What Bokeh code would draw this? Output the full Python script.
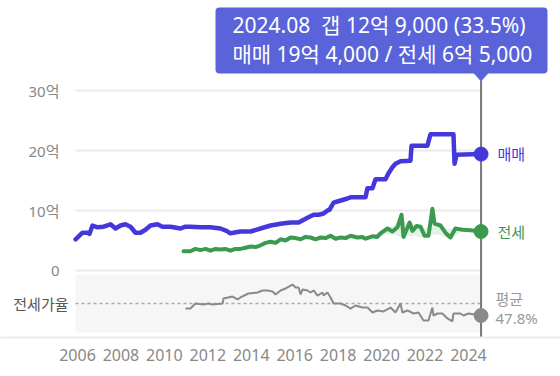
from bokeh.plotting import figure
from bokeh.models import Range1d, FixedTicker, BoxAnnotation, Label
from bokeh.core.properties import value
from bokeh.embed import file_html
from bokeh.resources import INLINE

# ---------------- data (억 원, 연도) ----------------
sale_year = [2005.91, 2006.23, 2006.46, 2006.55, 2006.69, 2006.92, 2007.20, 2007.52, 2007.75, 2007.98,
             2008.21, 2008.44, 2008.67, 2008.90, 2009.13, 2009.36, 2009.68, 2009.91, 2010.28, 2010.74,
             2010.97, 2011.20, 2011.66, 2012.12, 2012.58, 2012.86, 2013.04, 2013.50, 2013.97, 2014.43,
             2014.89, 2015.35, 2015.81, 2016.18, 2016.59, 2016.87, 2017.10, 2017.33, 2017.51, 2017.60,
             2017.79, 2017.97, 2018.43, 2018.57, 2019.26, 2019.35, 2019.58, 2019.72, 2020.18, 2020.32,
             2020.50, 2020.64, 2020.87, 2021.33, 2021.38, 2022.11, 2022.25, 2023.31, 2023.36, 2023.45,
             2024.58]
sale_val = [5.2, 6.3, 6.3, 6.1, 7.5, 7.2, 7.3, 7.7, 7.0, 7.5,
            7.7, 7.3, 6.3, 6.3, 6.8, 7.5, 7.7, 7.3, 7.3, 7.0,
            7.3, 7.3, 7.2, 7.2, 7.0, 6.6, 6.2, 6.5, 6.5, 7.0,
            7.5, 7.8, 8.0, 8.0, 8.8, 9.3, 9.3, 9.5, 10.0, 10.1,
            11.3, 11.5, 12.0, 12.2, 12.2, 13.7, 13.7, 15.2, 15.2, 16.2,
            17.2, 17.8, 18.2, 18.3, 20.8, 20.8, 22.7, 22.7, 17.8, 19.3,
            19.4]

jeonse_year = [2010.88, 2011.20, 2011.43, 2011.66, 2011.90, 2012.12, 2012.35, 2012.58, 2012.80, 2013.04,
               2013.27, 2013.50, 2013.74, 2013.97, 2014.20, 2014.43, 2014.66, 2014.89, 2015.12, 2015.35,
               2015.58, 2015.81, 2016.04, 2016.27, 2016.50, 2016.73, 2016.96, 2017.19, 2017.42, 2017.65,
               2017.88, 2018.11, 2018.34, 2018.57, 2018.89, 2019.10, 2019.26, 2019.58, 2019.80, 2019.95,
               2020.27, 2020.50, 2020.73, 2020.92, 2021.01, 2021.15, 2021.29, 2021.42, 2021.61, 2021.79,
               2021.98, 2022.16, 2022.34, 2022.44, 2022.71, 2022.94, 2023.17, 2023.40, 2023.73, 2024.09,
               2024.58]
jeonse_val = [3.2, 3.2, 3.6, 3.4, 3.6, 3.3, 3.6, 3.5, 3.6, 3.3,
              3.6, 3.6, 3.8, 4.0, 3.9, 4.2, 4.6, 4.8, 4.6, 5.2,
              5.0, 5.5, 5.4, 5.2, 5.6, 5.5, 5.2, 5.5, 5.4, 5.8,
              5.3, 5.5, 5.4, 5.8, 5.5, 5.6, 5.3, 5.7, 5.6, 6.2,
              7.0, 6.5, 7.2, 9.3, 5.6, 6.8, 8.0, 6.6, 7.4, 7.3,
              5.8, 5.8, 10.3, 7.8, 7.5, 6.3, 5.5, 7.0, 6.8, 6.7,
              6.5]

band_year = [2019.3, 2019.8, 2020.2, 2020.6, 2020.9, 2021.2, 2021.5, 2021.8, 2022.1, 2022.4,
             2022.7, 2023.0, 2023.3, 2023.6]
band_lo = [5.2, 5.5, 6.0, 6.0, 5.5, 5.8, 5.8, 5.5, 5.5, 6.1, 5.9, 5.4, 5.5, 6.3]
band_hi = [5.8, 6.2, 7.2, 7.6, 8.2, 8.0, 7.8, 7.0, 7.1, 7.8, 7.4, 6.9, 7.0, 7.0]

ratio_year = [2010.97, 2011.20, 2011.43, 2011.80, 2012.03, 2012.22, 2012.68, 2012.72, 2013.14, 2013.37,
              2013.50, 2013.87, 2014.29, 2014.52, 2014.75, 2014.98, 2015.12, 2015.35, 2015.58, 2015.90,
              2016.04, 2016.18, 2016.27, 2016.36, 2016.59, 2016.73, 2016.87, 2017.05, 2017.28, 2017.33,
              2017.51, 2017.65, 2017.79, 2018.11, 2018.34, 2018.57, 2018.80, 2019.12, 2019.35, 2019.58,
              2019.81, 2020.09, 2020.41, 2020.64, 2020.87, 2020.96, 2021.19, 2021.47, 2021.70, 2021.93,
              2022.16, 2022.34, 2022.39, 2022.57, 2022.80, 2023.03, 2023.26, 2023.31, 2023.63, 2023.77,
              2024.00, 2024.58]
ratio_val = [41.8, 41.8, 47.8, 46.6, 47.8, 46.6, 47.8, 53.8, 56.1, 52.6,
             55.0, 59.7, 60.9, 63.3, 63.3, 62.1, 58.5, 63.3, 65.7, 70.4,
             66.8, 66.8, 58.5, 64.5, 63.3, 60.9, 63.3, 57.3, 60.9, 57.3,
             60.9, 55.0, 47.8, 47.8, 45.4, 41.8, 45.4, 43.0, 43.0, 37.1,
             39.5, 38.3, 43.0, 37.1, 47.8, 37.1, 39.5, 35.9, 37.1, 27.6,
             27.6, 43.0, 33.5, 35.9, 35.9, 30.0, 26.4, 35.9, 35.9, 33.5,
             35.9, 33.5]
ratio_avg = 47.8

x_ticks = [2006, 2008, 2010, 2012, 2014, 2016, 2018, 2020, 2022, 2024]
y_ticks = [0, 10, 20, 30]
y_tick_labels = ["0", "10억", "20억", "30억"]
ratio_title = "전세가율"

cursor_year = 2024.58
cursor_label = "2024.08"

assert len(sale_year) == len(sale_val)
assert len(jeonse_year) == len(jeonse_val)
assert len(ratio_year) == len(ratio_val)
assert len(band_year) == len(band_lo) == len(band_hi)

sale_now = sale_val[-1]
jeonse_now = jeonse_val[-1]
ratio_now = ratio_val[-1]
gap_now = sale_now - jeonse_now


def fmt_eok(v):
    total = int(round(v * 10000))
    eok, man = divmod(total, 10000)
    return f"{eok}억 {man:,}" if man else f"{eok}억"


# ---------------- layout ----------------
W, H = 560, 376
BOTTOM = 39
PLOT_LEFT_PX = 75            # left edge of the plotting area inside the frame
PX_YEAR = 21.72
X_START = 2006 - 77 / PX_YEAR  # year at canvas x = 0
Y0_PX, PX_EOK = 270.0, 6.0
R_MID_PX, PX_PCT = 303.0, 0.84

frame_h = H - BOTTOM
x_end = X_START + W / PX_YEAR
y_top = Y0_PX / PX_EOK
y_bot = (Y0_PX - frame_h) / PX_EOK
r_top = ratio_avg + R_MID_PX / PX_PCT
r_bot = ratio_avg - (frame_h - R_MID_PX) / PX_PCT


def cx(px):
    return X_START + px / PX_YEAR


def cy(py):
    return (Y0_PX - py) / PX_EOK


def cr(py):
    return ratio_avg + (R_MID_PX - py) / PX_PCT


FONT = "Noto Sans, Noto Sans CJK KR, sans-serif"
BLUE = "#4438dc"
GREEN = "#3c9a50"
GRAY = "#8a8a8a"
TIP = "#5a63d9"

p = figure(width=W, height=H, output_backend="svg", toolbar_location=None,
           x_range=Range1d(X_START, x_end), y_range=Range1d(y_bot, y_top),
           y_axis_location=None,
           min_border_left=0, min_border_right=0, min_border_top=0,
           min_border_bottom=BOTTOM, outline_line_color=None,
           background_fill_color="white", border_fill_color="white")
p.extra_y_ranges = {"ratio": Range1d(r_bot, r_top)}
p.xgrid.visible = False
p.ygrid.visible = False

# x axis (its line is the full-width base line)
xa = p.xaxis[0]
xa.ticker = FixedTicker(ticks=x_ticks)
xa.major_label_overrides = {t: str(t) for t in x_ticks}
xa.axis_line_color = "#ebebeb"
xa.axis_line_width = 2
xa.major_tick_line_color = None
xa.minor_tick_line_color = None
xa.major_tick_out = 0
xa.major_tick_in = 0
xa.major_label_standoff = 11
xa.major_label_text_font = FONT
xa.major_label_text_font_size = "16px"
xa.major_label_text_color = "#888888"

x_left = cx(PLOT_LEFT_PX)

# y tick labels and grid lines
p.text(x=[cx(59)] * len(y_ticks), y=y_ticks, text=y_tick_labels,
       text_align="right", text_baseline="middle", text_font=value(FONT),
       text_font_size="15px", text_color="#888888")
p.segment(x0=[x_left] * len(y_ticks), y0=y_ticks, x1=[cursor_year] * len(y_ticks), y1=y_ticks,
          line_color="#ebebeb", line_width=2)

# ratio panel
p.quad(left=[x_left], right=[cursor_year], bottom=[cr(332)], top=[cr(274)],
       fill_color="#f6f6f6", line_color=None, y_range_name="ratio")
p.segment(x0=[x_left], y0=[ratio_avg], x1=[cursor_year], y1=[ratio_avg],
          line_color="#aaaaaa", line_width=1.5, line_dash="3 3", y_range_name="ratio")
p.text(x=[cx(68)], y=[ratio_avg], text=[ratio_title], text_align="right",
       text_baseline="middle", text_font=value(FONT), text_font_size="15px",
       text_color="#555555", y_range_name="ratio")
p.line(ratio_year, ratio_val, line_color=GRAY, line_width=2, y_range_name="ratio")

# price lines
p.varea(x=band_year, y1=band_lo, y2=band_hi, fill_color="#e3f2e6")
p.line(jeonse_year, jeonse_val, line_color=GREEN, line_width=4, line_join="round", line_cap="round")
p.line(sale_year, sale_val, line_color=BLUE, line_width=4.5, line_join="round", line_cap="round")

# cursor
p.segment(x0=[cursor_year], y0=[cy(80)], x1=[cursor_year], y1=[y_bot],
          line_color="#777777", line_width=2)
p.scatter([cursor_year], [sale_now], size=14, color=BLUE)
p.scatter([cursor_year], [jeonse_now], size=14, color=GREEN)
p.scatter([cursor_year], [ratio_now], size=14, color=GRAY, y_range_name="ratio")

# tooltip
p.patch([cursor_year - 8 / PX_YEAR, cursor_year + 8 / PX_YEAR, cursor_year],
        [cy(72), cy(72), cy(81)], fill_color=TIP, line_color=None)
tip = BoxAnnotation(left=cx(215), right=cx(547), top=cy(7), bottom=cy(73),
                    fill_color=TIP, fill_alpha=1, line_color=None, border_radius=4)
p.add_layout(tip)

line1 = f"{cursor_label}\u00a0\u00a0갭 {fmt_eok(gap_now)} ({ratio_now}%)"
line2 = f"매매 {fmt_eok(sale_now)} / 전세 {fmt_eok(jeonse_now)}"


def add_label(x, y, text, color, size, align="left", **kw):
    p.add_layout(Label(x=x, y=y, text=text, text_color=color, text_font=FONT,
                       text_font_size=size, text_align=align, text_baseline="middle", **kw))


add_label(cx(232), cy(24), line1, "white", "21px")
add_label(cx(232), cy(53), line2, "white", "21px")

# right-side labels
add_label(cx(497), sale_now, "매매", BLUE, "15px")
add_label(cx(497), jeonse_now, "전세", GREEN, "15px")
add_label(cx(495), cy(298), "평균", "#999999", "15px")
add_label(cx(495), cy(317), f"{ratio_avg}%", "#999999", "15px")

open("out.html", "w").write(file_html(p, INLINE))
